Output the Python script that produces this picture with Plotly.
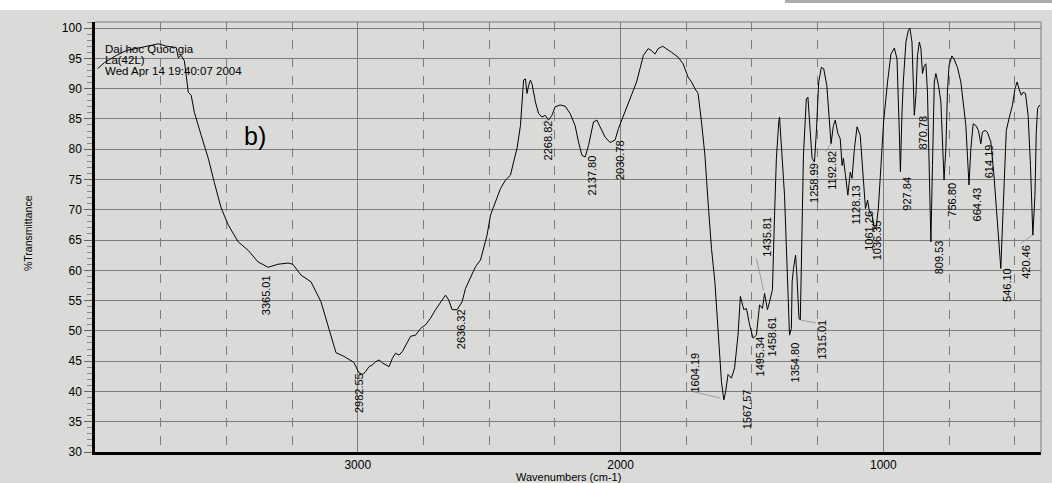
import plotly.graph_objects as go

# ---- spectrum (wavenumber cm-1, %T) ----
wavenumber = [
    3990, 3964, 3918, 3880, 3824, 3759, 3728, 3691, 3683, 3672, 3660, 3645, 3634, 3622,
    3596, 3569, 3546, 3520, 3493, 3455, 3417, 3380, 3341, 3304, 3265, 3247, 3216, 3178,
    3140, 3114, 3083, 3053, 3015, 2996, 2981, 2970, 2957, 2944, 2932, 2919, 2906, 2881,
    2868, 2856, 2843, 2830, 2811, 2799, 2780, 2761, 2742, 2723, 2704, 2685, 2666, 2654,
    2641, 2622, 2603, 2590, 2571, 2552, 2533, 2521, 2508, 2495, 2476, 2457, 2438, 2419,
    2407, 2394, 2381, 2375, 2369, 2362, 2356, 2350, 2343, 2337, 2324, 2312, 2299, 2287,
    2274, 2261, 2249, 2230, 2211, 2192, 2173, 2160, 2147, 2135, 2122, 2103, 2090, 2078,
    2059, 2040, 2021, 2008, 1989, 1964, 1939, 1926, 1913, 1895, 1882, 1869, 1857, 1840,
    1825, 1806, 1781, 1762, 1743, 1730, 1717, 1705, 1692, 1679, 1667, 1654, 1641, 1629,
    1616, 1607, 1600, 1591, 1578, 1566, 1553, 1544, 1531, 1521, 1509, 1496, 1483, 1471,
    1460, 1452, 1441, 1433, 1422, 1414, 1407, 1398, 1395, 1376, 1363, 1357, 1350, 1347,
    1342, 1334, 1329, 1321, 1316, 1310, 1304, 1293, 1287, 1278, 1271, 1262, 1255, 1246,
    1236, 1227, 1215, 1205, 1199, 1190, 1183, 1173, 1164, 1157, 1152, 1144, 1135, 1126,
    1119, 1110, 1100, 1088, 1079, 1068, 1060, 1053, 1043, 1034, 1028, 1019, 1009, 999,
    984, 971, 958, 948, 940, 935, 929, 924, 914, 905, 899, 891, 882, 876,
    870, 863, 857, 851, 844, 838, 832, 825, 819, 813, 806, 800, 790, 781,
    775, 769, 762, 756, 750, 739, 731, 718, 705, 693, 686, 680, 674, 667,
    658, 648, 638, 629, 623, 613, 604, 591, 579, 566, 553, 545, 537, 532,
    522, 509, 499, 491, 484, 475, 468, 459, 449, 440, 431, 423, 418, 413, 405,
]
transmittance = [
    93.3, 94.3, 95.5, 96.3, 96.8, 97.4, 97.0, 96.8, 95.1, 95.5, 94.6, 89.4, 88.9, 86.1,
    82.3, 78.5, 74.5, 70.3, 67.5, 64.7, 63.3, 61.4, 60.5, 61.0, 61.2, 61.0, 59.2, 58.1,
    54.8, 51.0, 46.4, 45.8, 44.8, 43.1, 42.8, 43.3, 44.1, 44.4, 44.9, 45.2, 44.7, 44.1,
    45.5, 46.3, 46.0, 46.6, 48.0, 49.1, 49.3, 50.4, 51.0, 52.1, 53.5, 54.8, 55.9, 55.1,
    53.5, 53.5, 54.8, 57.0, 58.7, 60.6, 61.7, 63.6, 65.8, 69.1, 71.3, 73.5, 74.9, 75.7,
    77.9, 80.1, 83.9, 87.8, 91.4, 91.6, 89.2, 90.5, 91.4, 90.8, 87.8, 85.9, 85.3, 85.6,
    84.8, 85.6, 87.0, 87.3, 87.1, 85.9, 83.9, 81.2, 79.0, 78.7, 80.6, 84.5, 84.8, 83.7,
    82.0, 81.1, 81.5, 83.4, 85.6, 88.3, 91.1, 93.3, 95.5, 96.6, 96.3, 95.7, 96.6, 97.0,
    96.6, 96.0, 95.2, 94.1, 91.9, 91.1, 90.0, 89.2, 84.5, 79.0, 71.3, 63.6, 58.1, 49.9,
    41.6, 38.6, 40.0, 42.8, 42.2, 43.9, 49.3, 55.7, 53.5, 53.7, 51.0, 48.8, 49.3, 54.3,
    53.7, 56.2, 53.5, 54.8, 56.8, 69.1, 78.5, 84.5, 85.3, 72.4, 58.1, 49.3, 50.4, 58.1,
    60.3, 62.5, 59.2, 52.1, 51.8, 63.6, 79.0, 88.3, 88.6, 82.8, 78.5, 77.9, 82.8, 91.1,
    93.5, 93.3, 90.5, 84.5, 80.9, 83.9, 84.8, 82.6, 81.7, 77.3, 78.5, 75.7, 72.4, 76.2,
    75.2, 80.1, 83.7, 82.3, 77.3, 70.2, 71.6, 69.7, 69.1, 66.9, 66.9, 70.2, 77.3, 84.5,
    91.1, 95.7, 96.7, 94.9, 83.9, 76.3, 86.0, 91.1, 97.7, 99.6, 100.0, 97.7, 85.6, 88.9,
    95.5, 97.7, 96.6, 92.5, 93.8, 94.1, 89.4, 77.3, 64.7, 77.3, 91.1, 92.5, 90.5, 87.8,
    82.3, 74.9, 80.1, 89.4, 93.8, 95.4, 94.9, 93.5, 91.1, 86.7, 83.9, 79.0, 74.1, 80.1,
    84.2, 83.9, 83.1, 80.9, 82.8, 83.1, 82.8, 81.2, 75.7, 68.0, 60.3, 69.1, 78.5, 83.1,
    85.0, 87.2, 90.0, 91.1, 90.0, 88.9, 89.4, 89.2, 85.6, 77.3, 65.8, 72.4, 82.8, 86.7, 87.3,
]

# ---- peak labels: text, label position (wavenumber, %T) ----
peak_text = ["3365.01", "2982.55", "2636.32", "2268.82", "2137.80", "2030.78",
             "1604.19", "1567.57", "1495.34", "1458.61", "1435.81", "1354.80",
             "1315.01", "1258.99", "1192.82", "1128.13", "1061.26", "1036.35",
             "927.84", "870.78", "809.53", "756.80", "664.43", "614.19",
             "546.10", "420.46"]
label_wn = [3349, 2996, 2609, 2275, 2108, 2002,
            1717, 1520, 1471, 1425, 1444, 1338,
            1235, 1262, 1194, 1106, 1053, 1023,
            909, 848, 787, 738, 643, 598,
            529, 457]
label_t = [55.9, 39.7, 50.2, 81.5, 75.7, 78.2,
           43.1, 37.0, 45.7, 49.0, 65.5, 44.7,
           48.5, 74.5, 76.5, 70.8, 66.6, 65.0,
           72.7, 82.8, 62.2, 71.7, 70.9, 78.0,
           57.6, 61.4]

# leader lines: (from wavenumber, from %T) -> (to wavenumber, to %T)
leader_from_wn = [3019, 2306, 1728, 1484, 1319, 1287, 1224, 484]
leader_from_t = [41.6, 84.1, 40.0, 62.2, 51.8, 76.5, 79.3, 64.2]
leader_to_wn = [2981, 2274, 1620, 1456, 1256, 1268, 1199, 433]
leader_to_t = [43.0, 85.0, 38.9, 56.7, 51.3, 77.9, 80.9, 65.8]

x_ticks = [3000, 2000, 1000]
y_ticks = [30, 35, 40, 45, 50, 55, 60, 65, 70, 75, 80, 85, 90, 95, 100]
header_lines = ["Dai hoc Quoc gia", "La(42L)", "Wed Apr 14 19:40:07 2004"]

FONT = "Liberation Sans, Arial, sans-serif"
BG = "#dadad8"
GRID = "#7c7c7c"

fig = go.Figure()
fig.add_trace(go.Scatter(x=wavenumber, y=transmittance, mode="lines",
                         line=dict(color="black", width=1), hoverinfo="skip",
                         showlegend=False))

annotations = []
for t, xw, yt in zip(peak_text, label_wn, label_t):
    annotations.append(dict(x=xw, y=yt, xref="x", yref="y", text=t, textangle=-90,
                            showarrow=False, xanchor="center", yanchor="middle",
                            font=dict(family=FONT, size=11, color="black")))
for x0, y0, x1, y1 in zip(leader_from_wn, leader_from_t, leader_to_wn, leader_to_t):
    annotations.append(dict(x=x1, y=y1, ax=x0, ay=y0, xref="x", yref="y", axref="x", ayref="y",
                            text="", showarrow=True, arrowhead=0, arrowwidth=0.8,
                            arrowcolor="#8c8c8c", standoff=0, startstandoff=0))

# header
for i, line in enumerate(header_lines):
    annotations.append(dict(x=(103 - 95) / 946, y=(452 - 49 - i * 11) / 430,
                            xref="paper", yref="paper",
                            text=line, showarrow=False, xanchor="left", yanchor="middle",
                            font=dict(family=FONT, size=11.5, color="black")))
# panel letter
annotations.append(dict(x=(255 - 95) / 946, y=(452 - 136) / 430, xref="paper", yref="paper",
                        text="b)", showarrow=False, xanchor="center", yanchor="middle",
                        font=dict(family=FONT, size=25, color="black")))
# axis titles
annotations.append(dict(x=(568 - 95) / 946, y=(452 - 477) / 430, xref="paper", yref="paper",
                        text="Wavenumbers (cm-1)", showarrow=False, xanchor="center",
                        yanchor="middle", font=dict(family=FONT, size=11, color="black")))
annotations.append(dict(x=(28 - 95) / 946, y=(452 - 233) / 430, xref="paper", yref="paper",
                        text="%Transmittance", showarrow=False, textangle=-90,
                        xanchor="center", yanchor="middle",
                        font=dict(family=FONT, size=10.5, color="black")))

shapes = [
    # top strip of the scan
    dict(type="rect", xref="paper", yref="paper", x0=-0.2, x1=1.2, y0=(452 - 10) / 430, y1=1.2,
         fillcolor="white", line=dict(width=0), layer="below"),
    dict(type="rect", xref="paper", yref="paper", x0=(785 - 95) / 946, x1=1.2,
         y0=(452 - 3) / 430, y1=1.2, fillcolor="#777777", opacity=0.6,
         line=dict(width=0), layer="below"),
    # top and right frame lines
    dict(type="line", xref="paper", yref="paper", x0=0, x1=1, y0=1, y1=1,
         line=dict(color=GRID, width=1)),
    dict(type="line", xref="paper", yref="paper", x0=1, x1=1, y0=0, y1=1,
         line=dict(color=GRID, width=1)),
]

fig.update_layout(
    width=1052, height=483,
    margin=dict(l=95, r=11, t=22, b=31),
    paper_bgcolor=BG, plot_bgcolor=BG,
    font=dict(family=FONT, color="black"),
    annotations=annotations, shapes=shapes,
    xaxis=dict(range=[4000, 400], tickmode="array", tickvals=x_ticks,
               ticktext=[str(v) for v in x_ticks],
               showgrid=True, gridcolor=GRID, gridwidth=1,
               minor=dict(tickmode="linear", tick0=0, dtick=250, showgrid=True,
                          griddash="dash", gridcolor=GRID, gridwidth=1, ticks=""),
               ticks="", ticklabelstandoff=0,
               showline=True, linecolor="black", linewidth=2.5, zeroline=False,
               tickfont=dict(size=12, color="black")),
    yaxis=dict(range=[30, 101], tickmode="array", tickvals=y_ticks,
               showgrid=True, gridcolor=GRID, gridwidth=1,
               ticks="outside", ticklen=8, tickcolor="#666666", tickwidth=1,
               minor=dict(tickmode="linear", tick0=0, dtick=1, ticks="outside", ticklen=5,
                          tickcolor="#888888", showgrid=False),
               showline=True, linecolor="black", linewidth=2.5, zeroline=False,
               tickfont=dict(size=12, color="black")),
)

fig.write_html("out.html", config={"displayModeBar": False},
               post_script="document.body.style.margin='0';document.body.style.overflow='hidden';")
